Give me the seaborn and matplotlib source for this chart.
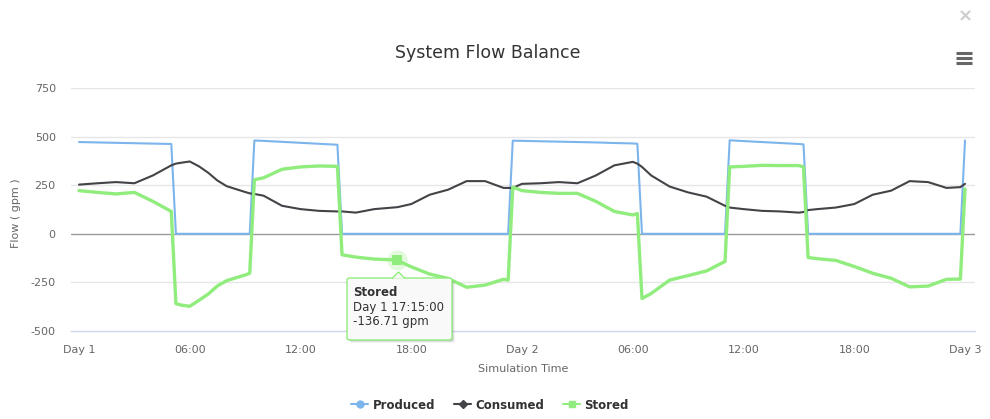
import numpy as np
import pandas as pd
import matplotlib
matplotlib.use("Agg")
import matplotlib.pyplot as plt
import seaborn as sns
from matplotlib.lines import Line2D
from matplotlib.patches import FancyBboxPatch, Polygon

# ---------------- data (hours since Day 1 00:00) ----------------
hours = [0, 1, 2, 3, 4, 5, 5.25, 5.5, 6, 6.5, 7, 7.5, 8, 9, 9.25, 9.5, 10, 11, 12, 13, 14, 14.25,
         15, 16, 17, 17.25, 18, 19, 20, 21, 22, 23, 23.25, 23.5, 24, 25, 26, 27, 28,
         29, 30, 30.25, 30.5, 31, 32, 33, 34, 35, 35.25, 36, 37, 38, 39, 39.25, 39.5,
         40, 41, 42, 43, 44, 45, 46, 47, 47.75, 48]

produced = [472, 470, 468, 466, 464, 462, 0, 0, 0, 0, 0, 0, 0, 0, 0, 480, 478, 473, 468, 463, 458, 0,
            0, 0, 0, 0, 0, 0, 0, 0, 0, 0, 0, 479, 478, 476, 474, 472, 470,
            467, 465, 463, 0, 0, 0, 0, 0, 0, 481, 477, 472, 467, 462, 460, 0,
            0, 0, 0, 0, 0, 0, 0, 0, 0, 480]

consumed = [253, 260, 266, 260, 300, 352, 361, 365, 372, 347, 314, 274, 245, 215, 208, 205, 196, 144, 127, 118, 115, 115,
            109, 127, 135, 137, 153, 201, 227, 271, 271, 236, 236, 236, 257, 260, 266, 260, 300,
            352, 370, 361, 344, 300, 243, 213, 191, 144, 135, 127, 118, 115, 109, 112, 122,
            127, 135, 153, 201, 222, 271, 266, 236, 240, 257]

stored = [222, 213, 205, 213, 167, 115, -359, -366, -373, -342, -310, -268, -241, -212, -203, 278, 288, 332, 344, 349, 347, -108,
          -120, -130, -134, -136.71, -170, -207, -230, -275, -264, -234, -238, 240, 222, 213, 208, 208, 167,
          115, 97, 104, -333, -307, -238, -215, -191, -142, 344, 347, 352, 351, 351, 344, -122,
          -128, -137, -168, -203, -229, -273, -269, -234, -233, 231]

series_names = ["Produced", "Consumed", "Stored"]
series_colors = {"Produced": "#7cb5ec", "Consumed": "#434348", "Stored": "#90ed7d"}

x_ticks = [0, 6, 12, 18, 24, 30, 36, 42, 48]
x_ticklabels = ["Day 1", "06:00", "12:00", "18:00", "Day 2", "06:00", "12:00", "18:00", "Day 3"]
y_ticks = [-500, -250, 0, 250, 500, 750]
y_ticklabels = ["-500", "-250", "0", "250", "500", "750"]

tip_series = "Stored"
tip_hour = 17.25
tip_value = -136.71
tip_lines = ["Day 1 17:15:00", "-136.71 gpm"]

# ---------------- build frame ----------------
df = pd.DataFrame({
    "hour": hours * 3,
    "value": produced + consumed + stored,
    "series": ["Produced"] * len(hours) + ["Consumed"] * len(hours) + ["Stored"] * len(hours),
})

sns.set_theme(style="white")
plt.rcParams["font.family"] = ["DejaVu Sans"]

W, H = 990, 419
fig = plt.figure(figsize=(W / 100, H / 100), dpi=100)
fig.patch.set_facecolor("white")

def fx(px):
    return px / W

def fy(py):
    return 1 - py / H

L, R, T, B = 71, 975, 88, 331
ax = fig.add_axes([fx(L), fy(B), (R - L) / W, (B - T) / H])

widths = {"Produced": 1.5, "Consumed": 1.5, "Stored": 2.4}
for i, name in enumerate(series_names):
    sub = df[df["series"] == name]
    sns.lineplot(data=sub, x="hour", y="value", ax=ax, color=series_colors[name],
                 linewidth=widths[name], estimator=None, sort=True, legend=False,
                 zorder=3 + i)

# x-scale: 0h at px 79, 48h at px 965
px_per_h = (965 - 79) / 48
ax.set_xlim(-(79 - L) / px_per_h, 48 + (R - 965) / px_per_h)
ax.set_ylim(-500, 750)

ax.set_yticks(y_ticks)
ax.set_yticklabels(y_ticklabels)
ax.set_xticks(x_ticks)
ax.set_xticklabels(x_ticklabels)
ax.set_xlabel("")
ax.set_ylabel("")

for t in y_ticks:
    if t == 0:
        ax.axhline(t, color="#999999", lw=1.0, zorder=2)
    elif t != -500:
        ax.axhline(t, color="#e6e6e6", lw=1.0, zorder=1)

for s in ["top", "right", "left"]:
    ax.spines[s].set_visible(False)
ax.spines["bottom"].set_color("#ccd6eb")
ax.spines["bottom"].set_linewidth(1.0)

ax.tick_params(axis="y", length=0, pad=11, labelsize=8, labelcolor="#666666")
ax.tick_params(axis="x", length=7, width=1, color="#ccd6eb", direction="out",
               pad=3, labelsize=8, labelcolor="#666666")
ax.grid(False)

# hover marker
ax.scatter([tip_hour], [tip_value], s=210, marker="o", color=series_colors[tip_series],
           alpha=0.25, linewidths=0, zorder=9)
ax.scatter([tip_hour], [tip_value], s=62, marker="s", color=series_colors[tip_series],
           linewidths=0, zorder=10)

# titles / labels
fig.text(fx(488), fy(53), "System Flow Balance", ha="center", va="center",
         fontsize=12.5, color="#333333")
fig.text(fx(16), fy(213), "Flow ( gpm )", ha="center", va="center", rotation=90,
         fontsize=8, color="#666666")
fig.text(fx(523), fy(369), "Simulation Time", ha="center", va="center",
         fontsize=8, color="#666666")

# tooltip
bx0, bx1, by0, by1 = 347, 452, 278, 340
for k, a in [(3, 0.05), (2, 0.08), (1, 0.1)]:
    sh = FancyBboxPatch((fx(bx0 + k), fy(by1 + k)), (bx1 - bx0) / W, (by1 - by0) / H,
                        boxstyle="round,pad=0,rounding_size=0.004", transform=fig.transFigure,
                        facecolor="black", edgecolor="none", alpha=a, zorder=20)
    fig.add_artist(sh)
box = FancyBboxPatch((fx(bx0), fy(by1)), (bx1 - bx0) / W, (by1 - by0) / H,
                     boxstyle="round,pad=0,rounding_size=0.004", transform=fig.transFigure,
                     facecolor="#f9f9f9", edgecolor=series_colors[tip_series], lw=1.0, zorder=21)
fig.add_artist(box)
tri = Polygon([(fx(392), fy(by0 + 0.5)), (fx(398.5), fy(272)), (fx(405), fy(by0 + 0.5))],
              closed=False, transform=fig.transFigure, facecolor="#f9f9f9",
              edgecolor=series_colors[tip_series], lw=1.0, zorder=22)
fig.add_artist(tri)
fig.text(fx(353), fy(292), tip_series, ha="left", va="center", fontsize=8.5,
         fontweight="bold", color="#333333", zorder=23)
fig.text(fx(353), fy(307), tip_lines[0], ha="left", va="center", fontsize=8.5,
         color="#333333", zorder=23)
fig.text(fx(353), fy(322), tip_lines[1], ha="left", va="center", fontsize=8.5,
         color="#333333", zorder=23)

# legend
markers = {"Produced": "o", "Consumed": "D", "Stored": "s"}
msize = {"Produced": 5, "Consumed": 4, "Stored": 5}
handles = [Line2D([0], [0], color=series_colors[n], lw=1.5, marker=markers[n],
                  markersize=msize[n]) for n in series_names]
leg = fig.legend(handles, series_names, loc="center", bbox_to_anchor=(fx(490), fy(405)),
                 ncol=3, frameon=False, handlelength=1.45, handletextpad=0.35,
                 columnspacing=1.6, prop={"size": 8.5, "weight": "bold"})
for t in leg.get_texts():
    t.set_color("#333333")

# top-right icons
fig.text(fx(965), fy(16), "\u00d7", ha="center", va="center", fontsize=13,
         fontweight="bold", color="#cccccc")
for yy in [53, 58, 63]:
    fig.add_artist(Line2D([fx(956), fx(972)], [fy(yy), fy(yy)], color="#666666",
                          lw=2.2, solid_capstyle="butt", transform=fig.transFigure))

fig.savefig("out.png", dpi=100, facecolor="white")
